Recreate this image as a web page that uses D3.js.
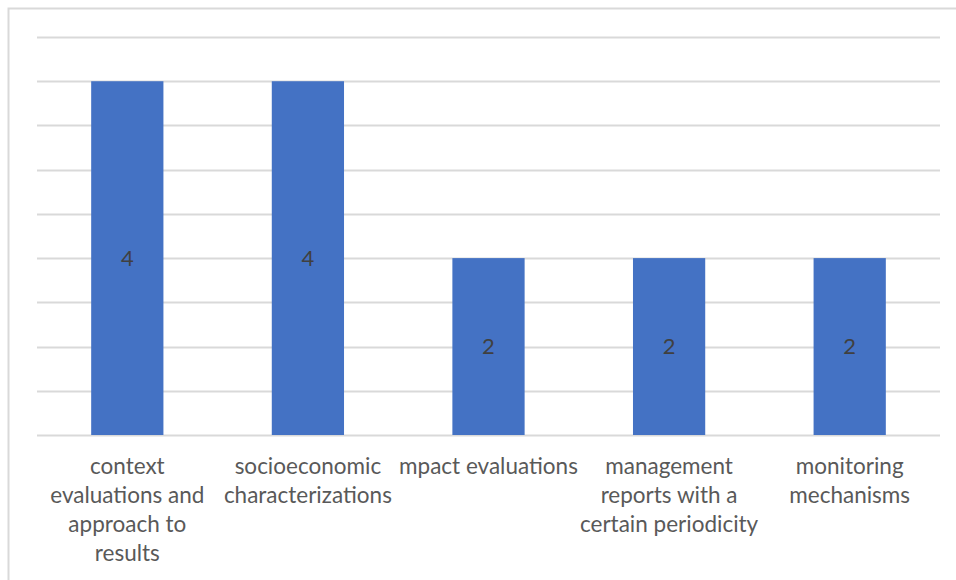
<!DOCTYPE html>
<html>
<head>
<meta charset="utf-8">
<script src="https://cdn.jsdelivr.net/npm/d3@7"></script>
<style>
  html, body { margin: 0; padding: 0; background: #fff; }
  svg { display: block; }
</style>
</head>
<body>
<svg id="chart" width="956" height="580"></svg>
<script>
// Categories and counts
const categories = [
  "context evaluations and approach to results",
  "socioeconomic characterizations",
  "mpact evaluations",
  "management reports with a certain periodicity",
  "monitoring mechanisms"
];
const values = [4, 4, 2, 2, 2];
// Axis label lines, wrapped the way they are shown under each bar
const tickLines = [
  ["context", "evaluations and", "approach to", "results"],
  ["socioeconomic", "characterizations"],
  ["mpact evaluations"],
  ["management", "reports with a", "certain periodicity"],
  ["monitoring", "mechanisms"]
];
const gridTicks = [0, 0.5, 1, 1.5, 2, 2.5, 3, 3.5, 4, 4.5];

const svg = d3.select("#chart");
const W = 956, H = 580;
const font = "Lato, 'Liberation Sans', sans-serif";

// Chart area frame (extends past the right and bottom edges)
svg.append("rect")
  .attr("x", 8.5).attr("y", 8.5)
  .attr("width", W + 20).attr("height", H + 20)
  .attr("fill", "#fff")
  .attr("stroke", "#d9d9d9")
  .attr("stroke-width", 2);

const plot = { left: 37, right: 940, top: 37, bottom: 435 };

const x = d3.scaleBand()
  .domain(categories)
  .range([plot.left, plot.right])
  .paddingInner(0.6)
  .paddingOuter(0.3);

const y = d3.scaleLinear()
  .domain([0, 4.5])
  .range([plot.bottom, plot.top]);

// Horizontal gridlines
svg.append("g")
  .selectAll("line")
  .data(gridTicks)
  .join("line")
  .attr("x1", plot.left).attr("x2", plot.right)
  .attr("y1", d => Math.round(y(d)) + 0.5)
  .attr("y2", d => Math.round(y(d)) + 0.5)
  .attr("stroke", "#d9d9d9")
  .attr("stroke-width", 2);

// Bars
svg.append("g")
  .selectAll("rect")
  .data(categories)
  .join("rect")
  .attr("x", d => x(d))
  .attr("width", x.bandwidth())
  .attr("y", (d, i) => y(values[i]))
  .attr("height", (d, i) => y(0) - y(values[i]))
  .attr("fill", "#4472c4");

// Value labels centred in each bar
svg.append("g")
  .selectAll("text")
  .data(categories)
  .join("text")
  .attr("x", d => x(d) + x.bandwidth() / 2)
  .attr("y", (d, i) => (y(values[i]) + y(0)) / 2)
  .attr("dy", "0.35em")
  .attr("text-anchor", "middle")
  .attr("font-family", font)
  .attr("font-size", 22)
  .attr("fill", "#404040")
  .text((d, i) => values[i]);

// Category labels along the bottom
const xAxis = svg.append("g");
const labelGroups = xAxis.selectAll("text")
  .data(categories)
  .join("text")
  .attr("x", d => x(d) + x.bandwidth() / 2)
  .attr("y", 474)
  .attr("text-anchor", "middle")
  .attr("font-family", font)
  .attr("font-size", 22.5)
  .attr("fill", "#595959");

labelGroups.each(function (d, i) {
  const t = d3.select(this);
  const cx = x(d) + x.bandwidth() / 2;
  tickLines[i].forEach((line, k) => {
    t.append("tspan")
      .attr("x", cx)
      .attr("y", 474 + k * 29)
      .text(line);
  });
});
</script>
</body>
</html>
